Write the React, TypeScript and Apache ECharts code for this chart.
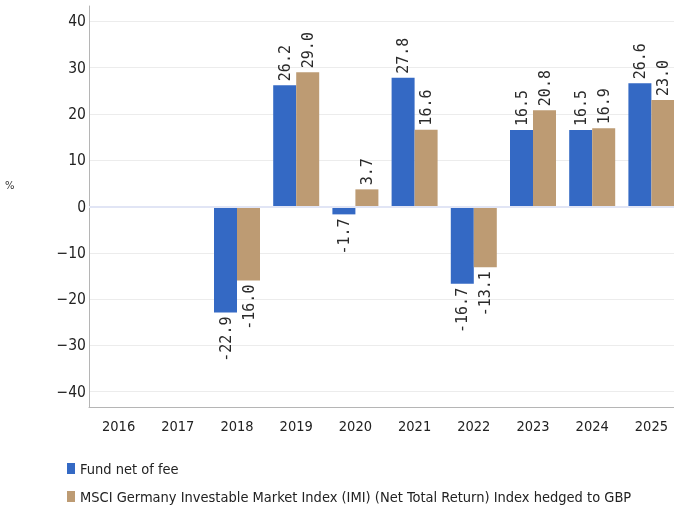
import React, { useEffect, useRef } from "react";
import * as echarts from "echarts";

const categories = ["2016", "2017", "2018", "2019", "2020", "2021", "2022", "2023", "2024", "2025"];
const fundValues: (number | null)[] = [null, null, -22.9, 26.2, -1.7, 27.8, -16.7, 16.5, 16.5, 26.6];
const indexValues: (number | null)[] = [null, null, -16.0, 29.0, 3.7, 16.6, -13.1, 20.8, 16.9, 23.0];
const yTicks = [-40, -30, -20, -10, 0, 10, 20, 30, 40];
const seriesNames = [
  "Fund net of fee",
  "MSCI Germany Investable Market Index (IMI) (Net Total Return) Index hedged to GBP",
];
const colors = ["#3469c4", "#bd9b73"];

const labelFont = "'DejaVu Sans Mono', monospace";
const axisFont = "'DejaVu Sans Condensed', sans-serif";

function toData(vals: (number | null)[]) {
  return vals.map((v) => {
    if (v === null) return null;
    const neg = v < 0;
    return {
      value: v,
      label: {
        show: true,
        position: neg ? "bottom" : "top",
        rotate: 90,
        align: neg ? "right" : "left",
        verticalAlign: "middle",
        distance: 4,
        formatter: (p: any) => Number(p.value).toFixed(1),
        fontFamily: labelFont,
        fontSize: 15,
        color: "#2a2a2a",
      },
    };
  });
}

const legendBase = {
  orient: "vertical",
  left: 62,
  itemWidth: 8,
  itemHeight: 11,
  icon: "rect",
  textStyle: { fontFamily: axisFont, fontSize: 14.5, color: "#222" },
};

export default function App() {
  const ref = useRef<HTMLDivElement>(null);
  useEffect(() => {
    if (!ref.current) return;
    const chart = echarts.init(ref.current, null, { renderer: "svg" });
    chart.setOption({
      animation: false,
      color: colors,
      grid: { left: 89, top: 6, width: 592, height: 401, containLabel: false, outerBoundsMode: "none" },
      legend: [
        { ...legendBase, top: 456, data: [seriesNames[0]] },
        { ...legendBase, top: 484, data: [seriesNames[1]] },
      ],
      graphic: [
        {
          type: "text",
          left: 5,
          top: 180,
          style: { text: "%", fontFamily: "'DejaVu Sans', sans-serif", fontSize: 10, fill: "#333" },
        },
      ],
      xAxis: {
        type: "category",
        data: categories,
        axisLine: { onZero: false, lineStyle: { color: "#b5b5b5", width: 1 } },
        axisTick: { show: false },
        axisLabel: { fontFamily: axisFont, fontSize: 14.5, color: "#222", margin: 11 },
      },
      yAxis: {
        type: "value",
        min: -43.3,
        max: 43.3,
        axisLine: { show: true, lineStyle: { color: "#b5b5b5", width: 1 } },
        axisTick: { show: false, customValues: yTicks },
        axisLabel: {
          customValues: yTicks,
          fontFamily: axisFont,
          fontSize: 15.5,
          color: "#222",
          margin: 3,
          formatter: (v: number) => (v < 0 ? "\u2212" + Math.abs(v) : String(v)),
        },
        splitLine: { show: true, lineStyle: { color: "#ececec", width: 1 } },
      },
      series: [
        {
          name: seriesNames[0],
          type: "bar",
          data: toData(fundValues),
          barWidth: 23,
          barGap: "0%",
          markLine: {
            silent: true,
            symbol: "none",
            label: { show: false },
            lineStyle: { color: "#e1e5f5", type: "solid", width: 2 },
            data: [{ yAxis: 0 }],
          },
        },
        {
          name: seriesNames[1],
          type: "bar",
          data: toData(indexValues),
          barWidth: 23,
          barGap: "0%",
        },
      ],
    });
    return () => chart.dispose();
  }, []);
  return <div ref={ref} style={{ position: "fixed", left: 0, top: 0, width: 674, height: 509 }} />;
}
